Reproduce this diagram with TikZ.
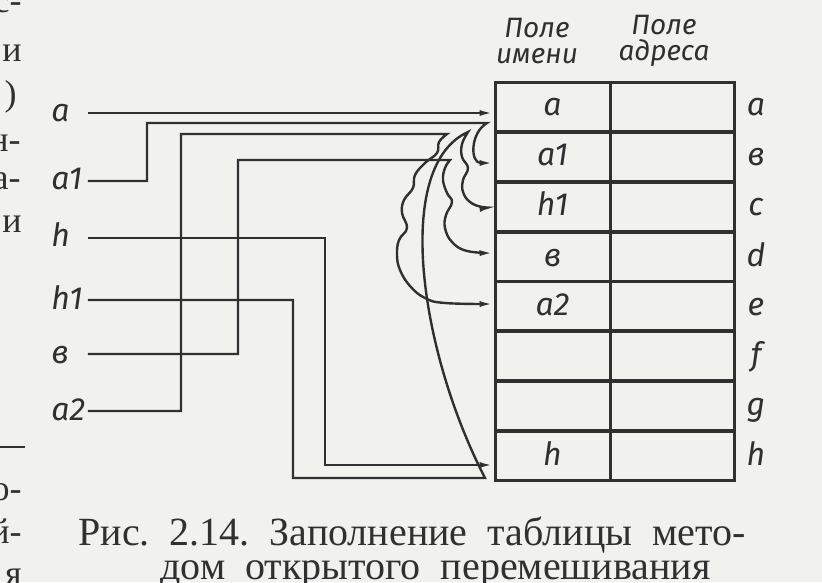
\documentclass[tikz,border=0pt]{standalone}
\usepackage{fontspec}
\usetikzlibrary{arrows.meta}
\newfontfamily\gost{Fira Sans}
\newfontfamily\capfont{Liberation Serif}
\definecolor{paper}{RGB}{241,241,238}
\definecolor{ink}{RGB}{48,48,48}
\tikzset{
    lbl/.style={font=\gost\itshape\fontsize{16}{16}\selectfont, text=ink, inner sep=0pt, text height=9pt, text depth=0pt},
    namecell/.style={lbl, draw=ink, line width=1.5pt, minimum width=57.5pt, minimum height=24.95pt},
    addrcell/.style={namecell, minimum width=62pt},
    hdr/.style={font=\gost\itshape\fontsize{14}{13}\selectfont, text=ink, align=center, inner sep=0pt},
    wire/.style={draw=ink, line width=1.2pt},
    arr/.style={-{Latex[length=7pt,width=3pt]}},
    captext/.style={font=\capfont\fontsize{18}{18}\selectfont, text=ink, inner sep=0pt},
    figtext/.style={font=\capfont\fontsize{20}{20}\selectfont, text=ink, inner sep=0pt, text height=13pt, text depth=0pt, anchor=base west},
}
\begin{document}
\begin{tikzpicture}[x=0.5pt, y=-0.5pt]
    \useasboundingbox (0,0) rectangle (822,582);
    \fill[paper] (0,0) rectangle (822,582);
    \clip (0,0) rectangle (822,582);
    % text of the page round the picture
    \node[captext, anchor=base east] (fA) at (22,13) {с-};
    \node[captext, anchor=base east] (fB) at (22,62) {и};
    \node[captext, anchor=base east] (fC) at (17,106) {)};
    \node[captext, anchor=base east] (fD) at (21,152) {н-};
    \node[captext, anchor=base east] (fE) at (21,190) {а-};
    \node[captext, anchor=base east] (fF) at (22,233) {и};
    \draw[ink, line width=1pt] (0,447) -- (25,447);
    \node[captext, anchor=base east] (fG) at (22,500) {о-};
    \node[captext, anchor=base east] (fH) at (22,543) {й-};
    \node[captext, anchor=base east] (fI) at (22,585) {я};
    % table
    \node[hdr] (hName) at (537,41) {Поле\\имени};
    \node[hdr] (hAddr) at (664,41) {Поле\\адреса};
    \node[namecell] (cA) at (552.5,107) {a};
    \node[namecell] (cA1) at (552.5,157) {a1};
    \node[namecell] (cH1) at (552.5,207) {h1};
    \node[namecell] (cB) at (552.5,257) {в};
    \node[namecell] (cA2) at (552.5,306) {a2};
    \node[namecell] (cF) at (552.5,356) {};
    \node[namecell] (cG) at (552.5,406) {};
    \node[namecell] (cH) at (552.5,456) {h};
    \node[addrcell] (dA) at (672,107) {};
    \node[addrcell] (dB) at (672,157) {};
    \node[addrcell] (dC) at (672,207) {};
    \node[addrcell] (dD) at (672,257) {};
    \node[addrcell] (dE) at (672,306) {};
    \node[addrcell] (dF) at (672,356) {};
    \node[addrcell] (dG) at (672,406) {};
    \node[addrcell] (dH) at (672,456) {};
    \node[lbl] (rA) at (756,107) {a};
    \node[lbl] (rB) at (756,157) {в};
    \node[lbl] (rC) at (756,207) {c};
    \node[lbl] (rD) at (756,257) {d};
    \node[lbl] (rE) at (756,306) {e};
    \node[lbl] (rF) at (756,356) {f};
    \node[lbl] (rG) at (756,406) {g};
    \node[lbl] (rH) at (756,456) {h};
    % keys
    \node[lbl, anchor=west, text width=18pt, align=left] (nA) at (51,113) {a};
    \node[lbl, anchor=west, text width=18pt, align=left] (nA1) at (51,181) {a1};
    \node[lbl, anchor=west, text width=18pt, align=left] (nH) at (51,238) {h};
    \node[lbl, anchor=west, text width=18pt, align=left] (nH1) at (51,300) {h1};
    \node[lbl, anchor=west, text width=18pt, align=left] (nB) at (51,354) {в};
    \node[lbl, anchor=west, text width=18pt, align=left] (nA2) at (51,411) {a2};
    % probes
    \draw[wire, arr] (nA.east) -- (nA.east -| cA.west);
    \draw[wire, arr] (nA1.east) -- (147,181) -- (147,123) -- (487,123)
        .. controls (470,133) and (470,163) .. ([yshift=-3pt]cA1.west);
    \draw[wire, arr] (nH.east) -- (325,238) -- (325,465) -- ([yshift=-4.5pt]cH.west);
    \draw[wire, arr] (nH1.east) -- (293,300) -- (293,478) -- (485,478) -- (479,466)
        .. controls (418,340) and (395,165) .. (468,132)
        -- plot[smooth, tension=0.7] coordinates {(468,132) (462,144) (462,157) (468,168) (463,180)
        (463,192) (470,202) (482,207) (cH1.west)};
    \draw[wire, arr] (nB.east) -- (238,354) -- (238,160) -- (450,160)
        -- plot[smooth, tension=0.7] coordinates {(450,160) (445,168) (443,180) (447,193) (452,202)
        (446,215) (445,228) (452,242) (467,251) ([yshift=2pt]cB.west)};
    \draw[wire, arr] (nA2.east) -- (181,411) -- (181,134) -- (447,134)
        -- plot[smooth, tension=0.7] coordinates {(447,134) (439,142) (437,153) (425,163) (415,175)
        (413,188) (404,200) (402,213) (407,228) (399,240) (397,255) (400,270) (410,286) (425,298)
        (445,303) ([yshift=1pt]cA2.west)};
    % caption
    \node[figtext] (capA) at (78,545) {Рис.\ \ 2.14.\ \ Заполнение\ \ таблицы\ \ мето-};
    \node[figtext] (capB) at (160,579) {дом\ \ открытого\ \ перемешивания};
\end{tikzpicture}
\end{document}
